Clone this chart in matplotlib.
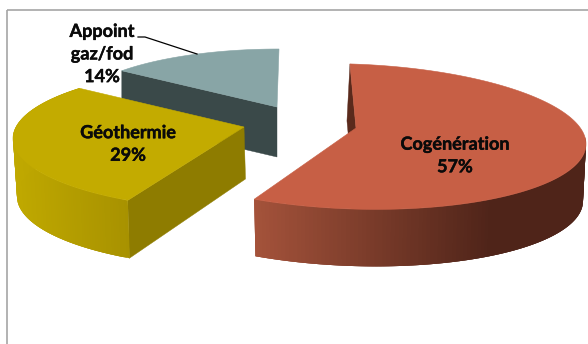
import numpy as np
import matplotlib
matplotlib.use("Agg")
import matplotlib.pyplot as plt
import matplotlib.patheffects as pe
from matplotlib.patches import Polygon, Rectangle
from matplotlib.colors import to_rgb

labels = ["Cogénération", "Géothermie", "Appoint\ngaz/fod"]
values = [57, 29, 14]

# drawing style of each slice (pixel layout of the oblique 3D view)
geom = {
    "Cogénération": dict(c=(352, 136.5), r=(234, 72.5), shear=7.5, apex=(356, 128), shift=-0.5,
                         depth=(57, 57), cut_lean=-3, shrink=3, wall_from=85, grad_end=0.72,
                         top="#C75F45", cut="#5A2A1C", wall=("#A5533B", "#4F2419")),
    "Géothermie": dict(c=(244, 138.5), r=(231, 71.5), shear=0, apex=(244, 127), shift=5.0,
                       depth=(58, 52), cut_lean=1.5, shrink=4, wall_from=0, grad_end=1.0,
                       top="#C3AB00", cut="#8E7C00", wall=("#C0A900", "#A89200")),
    "Appoint\ngaz/fod": dict(c=(279, 109), r=(204, 60), shear=0, apex=(277, 107), shift=0,
                             depth=(50, 50), cut_lean=0, shrink=0, wall_from=None, grad_end=1.0,
                             top="#88A5A6", cut="#3A4949", wall=("#3A4949", "#3A4949")),
}
label_pos = {"Cogénération": (455, 155.5), "Géothermie": (128, 144), "Appoint\ngaz/fod": (102, 54)}
draw_order = ["Appoint\ngaz/fod", "Géothermie", "Cogénération"]

plt.rcParams["font.family"] = ["Lato", "DejaVu Sans"]
fig = plt.figure(figsize=(5.88, 3.44), dpi=100, facecolor="white")
ax = fig.add_axes([0, 0, 1, 1])
ax.set_xlim(0, 588)
ax.set_ylim(344, 0)
ax.axis("off")

ax.add_patch(Rectangle((7, 9.5), 700, 500, fill=False, ec="#A6A6A6", lw=1.2))

total = sum(values)
spans = {}
cum = 0
for lab, v in zip(labels, values):
    spans[lab] = (cum, cum + v / total * 360)
    cum += v / total * 360


def rim(g, deg, lower=False):
    t = np.radians(deg + g["shift"])
    cx, cy = g["c"]
    rx, ry = g["r"]
    if lower:
        rx = rx - g["shrink"]
    x = cx + rx * np.sin(t)
    y = cy - ry * np.cos(t) + g["shear"] * np.sin(t)
    if lower:
        y += g["depth"][0]
    return x, y


def mix(a, b, f):
    a, b = np.array(to_rgb(a)), np.array(to_rgb(b))
    return tuple(a + (b - a) * f)


for lab in draw_order:
    g = geom[lab]
    a0, a1 = spans[lab]
    d_apex = g["depth"][1]
    lean = g["cut_lean"]
    ax0, ay0 = g["apex"]
    # flat cut face running from the apex to the rim, on the side that shows
    px, py = rim(g, a0)
    ax.add_patch(Polygon([(ax0, ay0), (px, py), (px + lean, py + g["depth"][0]),
                          (ax0 + lean, ay0 + d_apex)],
                         closed=True, fc=g["cut"], ec=g["cut"], lw=0.3, zorder=2))
    # curved outer wall, painted as overlapping strips for a smooth gradient
    if g["wall_from"] is not None:
        deg = np.linspace(max(a0, g["wall_from"]), a1, 120)
        wx = np.array([rim(g, d)[0] for d in deg])
        lo, hi = wx.min(), wx.max()
        for i in range(len(deg) - 1):
            seg = deg[i:min(i + 4, len(deg))]
            top_pts = [rim(g, d) for d in seg]
            low_pts = [rim(g, d, True) for d in seg[::-1]]
            f = min(1.0, ((wx[i] - lo) / (hi - lo)) / g["grad_end"])
            col = mix(g["wall"][0], g["wall"][1], f)
            ax.add_patch(Polygon(top_pts + low_pts, closed=True, fc=col, ec="none", zorder=3))
    # top face
    pts = [(ax0, ay0)] + [rim(g, d) for d in np.linspace(a0, a1, 200)]
    ax.add_patch(Polygon(pts, closed=True, fc=g["top"], ec=g["top"], lw=0.4, zorder=4))

for lab, v in zip(labels, values):
    x, y = label_pos[lab]
    ax.text(x, y, f"{lab}\n{v}%", ha="center", va="center", fontsize=13, fontweight="bold",
            color="#0A0A0A", linespacing=1.4, zorder=6,
            path_effects=[pe.withStroke(linewidth=0.3, foreground="#0A0A0A")])

ax.plot([138, 145, 197], [37, 37, 54], color="black", lw=0.9, zorder=6)

fig.savefig("out.png", dpi=100)
